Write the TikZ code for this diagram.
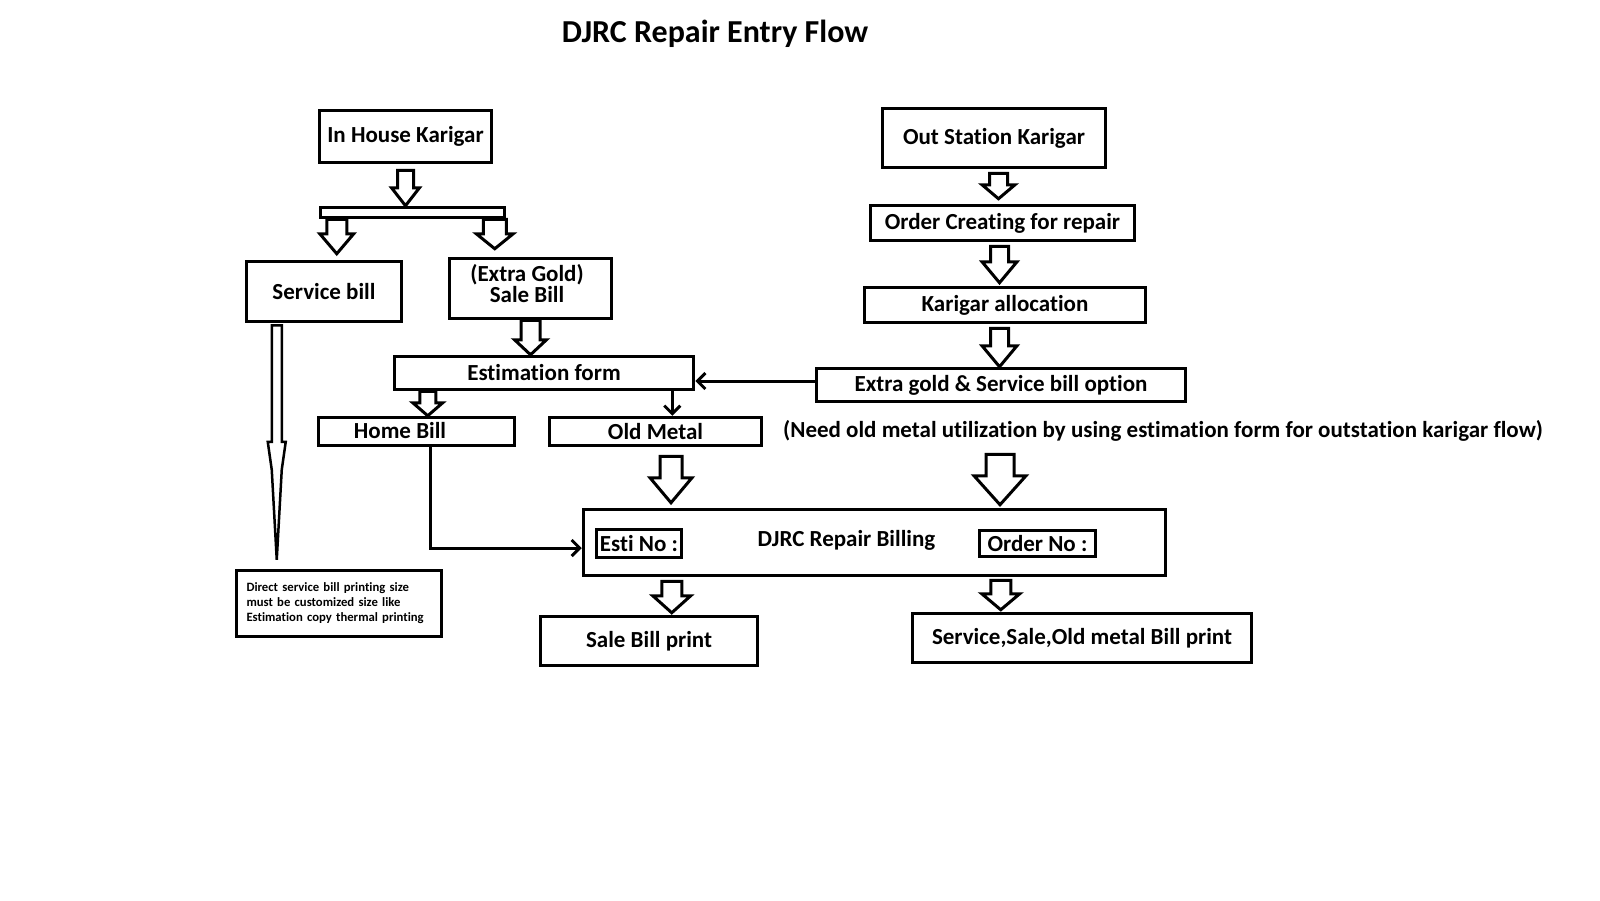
\documentclass[tikz,border=0pt]{standalone}
\usepackage{fontspec}
\setmainfont{Carlito}[Ligatures=NoCommon]
\usetikzlibrary{calc,arrows.meta}
% hollow block arrow: #1 start (top centre), #2 tip, #3 shaft half width, #4 head half width, #5 head length
\newcommand{\blockarrow}[5]{%
  \draw[blk] let \p1=(#1), \p2=(#2) in
    (\x1-#3pt,\y1) -- (\x1-#3pt,\y2+#5pt) -- (\x1-#4pt,\y2+#5pt) -- (\x1,\y2)
    -- (\x1+#4pt,\y2+#5pt) -- (\x1+#3pt,\y2+#5pt) -- (\x1+#3pt,\y1) -- cycle;}
\begin{document}
\begin{tikzpicture}[x=1pt,y=-1pt,
  box/.style={draw, line width=3.5pt, inner sep=0pt, align=center,
    font=\fontsize{23}{24}\selectfont\bfseries},
  blk/.style={draw, line width=3pt, fill=white},
  conn/.style={line width=3pt, -{Straight Barb[length=8pt,width=16pt,line width=3pt]}},
  txt/.style={inner sep=0pt, align=center, font=\fontsize{23}{24}\selectfont\bfseries},
]
\useasboundingbox[fill=white] (0,0) rectangle (1600,900);

\node[txt, font=\fontsize{32}{34}\selectfont\bfseries] (title) at (715,34) {DJRC Repair Entry Flow};

% left column
\node[box, minimum width=172, minimum height=52] (ihk) at (405.5,136.5) {In House Karigar};
\node[draw, line width=3.5pt, minimum width=184, minimum height=10, inner sep=0pt] (bar) at (412.5,212.5) {};
\node[box, minimum width=155, minimum height=60] (sb) at (324,291.5) {Service bill};
\node[box, minimum width=162, minimum height=60] (eg) at (530.5,288.5) {};
\node[txt, font=\fontsize{23}{21}\selectfont\bfseries] (egt) at (527,284) {(Extra Gold)\\Sale Bill};
\node[box, minimum width=299, minimum height=33] (est) at (544,373) {Estimation form};
\node[box, minimum width=196, minimum height=28] (hb) at (416.5,431.5) {};
\node[txt] (hbt) at (400,431) {Home Bill};
\node[box, minimum width=212, minimum height=28] (om) at (655.5,431.5) {Old Metal};
\node[box, text width=185pt, inner xsep=10pt, minimum height=66, align=left,
  font=\fontsize{12.7}{15}\selectfont\bfseries] (dsb) at (339,603.5)
  {Direct service bill printing size\\must be customized size like\\Estimation copy thermal printing};

% right column
\node[box, minimum width=223, minimum height=59] (osk) at (994,138) {Out Station Karigar};
\node[box, minimum width=264, minimum height=35] (ocr) at (1002.5,223) {Order Creating for repair};
\node[box, minimum width=281, minimum height=35] (ka) at (1005,305) {Karigar allocation};
\node[box, minimum width=369, minimum height=33] (egs) at (1001,385) {Extra gold \& Service bill option};
\node[txt] (note) at (1163,431) {(Need old metal utilization by using estimation form for outstation karigar flow)};

% billing
\node[draw, line width=3.5pt, minimum width=582, minimum height=66, inner sep=0pt] (djrc) at (874.5,542.5) {};
\node[txt] (djrct) at (846.5,540) {DJRC Repair Billing};
\node[box, minimum width=85, minimum height=28] (esti) at (639,543.5) {Esti No :};
\node[box, minimum width=116, minimum height=26] (ordno) at (1037.5,543.5) {Order No :};
\node[box, minimum width=217, minimum height=49] (sbp) at (649,641) {Sale Bill print};
\node[box, minimum width=339, minimum height=49] (ssop) at (1082,638) {Service,Sale,Old metal Bill print};

% block arrows
\blockarrow{$(ihk.south)+(0,6)$}{bar.north}{8}{14}{18}
\blockarrow{$(bar.south west)+(18,0)$}{$(sb.north)+(0,-6)$}{10}{17}{20}
\blockarrow{$(bar.south east)+(-11.5,0)$}{$(eg.north)+(0,-8)$}{11.5}{18.5}{15}
\blockarrow{eg.south}{est.north}{9.5}{16}{15}
\blockarrow{$(est.south west)+(35,0)$}{hb.north}{8}{15}{13}
\blockarrow{$(osk.south)+(4.5,4)$}{$(ocr.north)+(0,-5)$}{9}{16.5}{14}
\blockarrow{$(ocr.south)+(-3,4)$}{$(ka.north)+(0,-3)$}{9}{17.5}{21}
\blockarrow{$(ka.south)+(-5.5,4)$}{egs.north}{9}{17.5}{21}
\blockarrow{$(om.south)+(15.5,9)$}{$(djrc.north)+(0,-5)$}{11}{21}{25}
\blockarrow{$(egs.south)+(-1,51)$}{$(djrc.north)+(0,-3)$}{14}{26}{29}
\blockarrow{$(djrc.south west)+(90,4)$}{$(sbp.north)+(0,-2)$}{10}{19}{17}
\blockarrow{$(djrc.south west)+(419,3)$}{$(ssop.north)+(0,-2)$}{10}{19}{16}

% long spike arrow from Service bill
\draw[blk, line width=2.5pt] let \p1=($(sb.south west)+(32,2)$), \p2=($(dsb.north)+(0,-9)$) in
  (\x1-5pt,\y1) -- (\x1-5pt,\y2+118pt) -- (\x1-9pt,\y2+118pt) -- (\x1-5pt,\y2+90pt) -- (\x1,\y2)
  -- (\x1+5pt,\y2+90pt) -- (\x1+9pt,\y2+118pt) -- (\x1+5pt,\y2+118pt) -- (\x1+5pt,\y1) -- cycle;

% line connectors
\draw[conn] (est.south east) ++(-23,0) coordinate (p) -- (p |- om.north);
\draw[conn] (egs.west) ++(0,-4) coordinate (q) -- (q -| est.east);
\draw[conn] (hb.south west) ++(114,0) coordinate (r) |- ($(djrc.west)+(0,5.5)$);
\end{tikzpicture}
\end{document}
